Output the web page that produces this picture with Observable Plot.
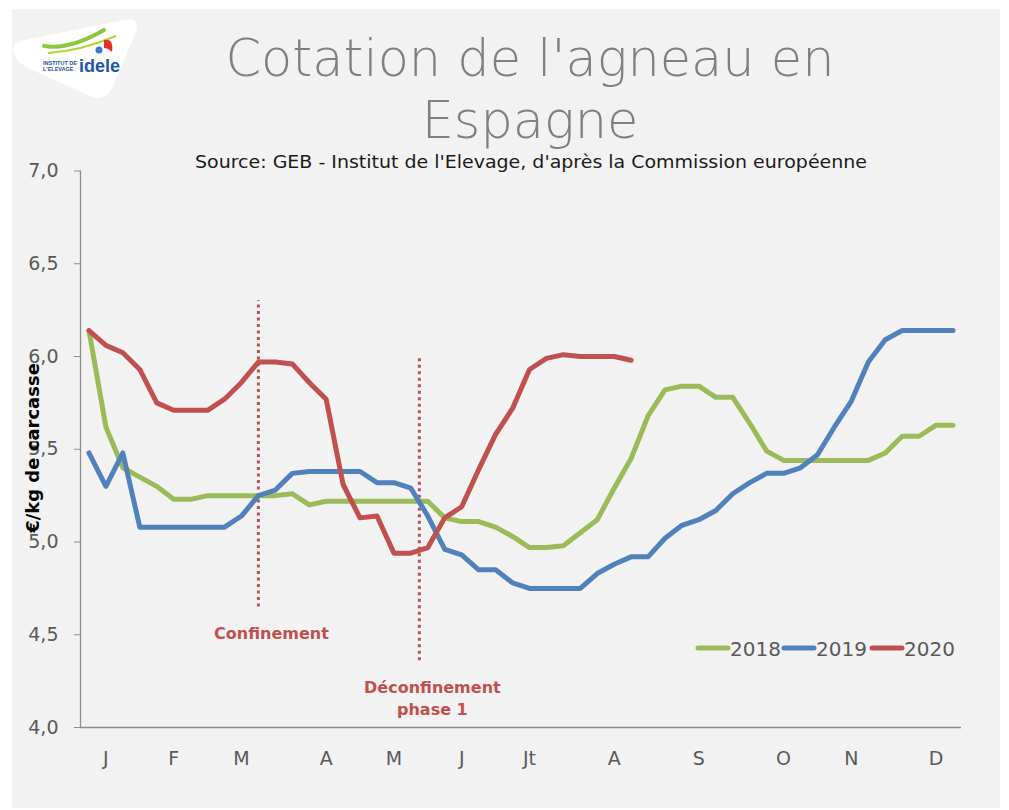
<!DOCTYPE html>
<html>
<head>
<meta charset="utf-8">
<script src="https://cdn.jsdelivr.net/npm/d3@7"></script>
<script src="https://cdn.jsdelivr.net/npm/@observablehq/plot@0.6"></script>
<style>
  html, body { margin: 0; padding: 0; background: #ffffff; }
  #page { position: relative; width: 1009px; height: 810px; overflow: hidden; background: #ffffff; }
  #panel { position: absolute; left: 12px; top: 9px; width: 988px; height: 799px; background: #f2f2f2; }
  #overlay { position: absolute; left: 0; top: 0; pointer-events: none; }
</style>
</head>
<body>
<div id="page">
  <div id="panel"></div>
  <svg id="overlay" width="1009" height="810"></svg>
</div>
<script>
// ---- Data (weekly lamb prices, €/kg carcass, Spain) ----
const weeks = d3.range(1, 53);
const years = ["2018", "2019", "2020"];
const yearColors = ["#9bbb59", "#4f81bd", "#c0504d"];

const price2018 = [6.14, 5.62, 5.40, 5.35, 5.30, 5.23, 5.23, 5.25, 5.25, 5.25, 5.25, 5.25, 5.26,
  5.20, 5.22, 5.22, 5.22, 5.22, 5.22, 5.22, 5.22, 5.13, 5.11, 5.11, 5.08, 5.03,
  4.97, 4.97, 4.98, 5.05, 5.12, 5.29, 5.45, 5.68, 5.82, 5.84, 5.84, 5.78, 5.78,
  5.64, 5.49, 5.44, 5.44, 5.44, 5.44, 5.44, 5.44, 5.48, 5.57, 5.57, 5.63, 5.63];

const price2019 = [5.48, 5.30, 5.48, 5.08, 5.08, 5.08, 5.08, 5.08, 5.08, 5.14, 5.25, 5.28, 5.37,
  5.38, 5.38, 5.38, 5.38, 5.32, 5.32, 5.29, 5.14, 4.96, 4.93, 4.85, 4.85, 4.78,
  4.75, 4.75, 4.75, 4.75, 4.83, 4.88, 4.92, 4.92, 5.02, 5.09, 5.12, 5.17, 5.26,
  5.32, 5.37, 5.37, 5.40, 5.47, 5.62, 5.76, 5.97, 6.09, 6.14, 6.14, 6.14, 6.14];

const price2020 = [6.14, 6.06, 6.02, 5.93, 5.75, 5.71, 5.71, 5.71, 5.77, 5.86, 5.97, 5.97, 5.96,
  5.86, 5.77, 5.31, 5.13, 5.14, 4.94, 4.94, 4.97, 5.13, 5.19, 5.39, 5.58, 5.72,
  5.93, 5.99, 6.01, 6.00, 6.00, 6.00, 5.98];

const monthLabels = ["J", "F", "M", "A", "M", "J", "Jt", "A", "S", "O", "N", "D"];
const monthWeeks = [2, 6, 10, 15, 19, 23, 27, 32, 37, 42, 46, 51];
const yTicks = [4.0, 4.5, 5.0, 5.5, 6.0, 6.5, 7.0];

const eventLabels = ["Confinement", "Déconfinement\nphase 1"];
const eventWeeks = [11, 20.5];
const eventTop = [6.30, 5.99];
const eventBottom = [4.65, 4.36];

const titleLines = ["Cotation de l'agneau en", "Espagne"];
const subtitle = "Source: GEB - Institut de l'Elevage, d'après la Commission européenne";
const yLabel = "€/kg de carcasse";

// ---- Build tables ----
const series = [price2018, price2019, price2020];
const rows = [];
series.forEach((vals, i) => vals.forEach((v, j) => rows.push({week: weeks[j], value: v, year: years[i]})));
const events = eventLabels.map((label, i) => ({label, week: eventWeeks[i], top: eventTop[i], bottom: eventBottom[i]}));

const FONT = "'DejaVu Sans', sans-serif";
const red = yearColors[2];

const chart = Plot.plot({
  width: 988,
  height: 799,
  marginLeft: 68,
  marginRight: 39,
  marginTop: 161.5,
  marginBottom: 81,
  style: {background: "transparent", fontFamily: FONT, overflow: "visible"},
  x: {type: "linear", domain: [0.5, 52.5]},
  y: {domain: [4, 7]},
  color: {domain: years, range: yearColors},
  marks: [
    Plot.ruleY([4], {stroke: "#8c8c8c", strokeWidth: 1.3}),
    Plot.ruleX([0.5], {y1: 4, y2: 7, stroke: "#8c8c8c", strokeWidth: 1.3}),
    Plot.axisY({ticks: yTicks, tickSize: 6, tickPadding: 16, stroke: "#8c8c8c",
      tickFormat: d => d.toFixed(1).replace(".", ","), fontSize: 19, fill: "#595959", label: null}),
    Plot.axisX({ticks: monthWeeks, tickSize: 0, tickPadding: 24,
      tickFormat: d => monthLabels[monthWeeks.indexOf(d)], fontSize: 19, fill: "#595959", label: null}),
    Plot.ruleX(events, {x: "week", y1: "bottom", y2: "top", stroke: red, strokeWidth: 3, strokeDasharray: "3,3.5"}),
    Plot.text(events, {x: "week", y: "bottom", text: "label", dx: 13, dy: 16, lineAnchor: "top",
      fill: red, fontWeight: "bold", fontSize: 16, lineHeight: 1.4, fontFamily: FONT}),
    Plot.line(rows, {x: "week", y: "value", z: "year", stroke: "year", strokeWidth: 5,
      strokeLinejoin: "round", strokeLinecap: "round"})
  ]
});
document.getElementById("panel").appendChild(chart);

// ---- Overlay: title, subtitle, y label, legend, logo ----
const ov = d3.select("#overlay");
// logo
const logo = ov.append("g");
logo.append("path").attr("d", "M14,54 Q10,44 24,40 L124,20 Q140,17 136,32 L112,88 Q106,101 92,97 L28,68 Q17,62 14,54 Z").attr("fill", "#ffffff");
logo.append("path").attr("d", "M44,46 Q70,50 104,30").attr("stroke", "#8dc63f").attr("stroke-width", 4).attr("fill", "none").attr("stroke-linecap", "round");
logo.append("path").attr("d", "M48,53 Q80,51 116,36").attr("stroke", "#b5d334").attr("stroke-width", 2).attr("fill", "none");
logo.append("path").attr("d", "M104,40 Q114,38 112,52 Q108,48 104,48 Z").attr("fill", "#e63027");
logo.append("circle").attr("cx", 99).attr("cy", 50).attr("r", 3.5).attr("fill", "#3b7cc4");
logo.append("text").attr("x", 43).attr("y", 65).attr("font-size", 5.5).attr("font-weight", "bold").attr("fill", "#1f4e9c").attr("font-family", "'Liberation Sans Narrow','Liberation Sans',sans-serif").text("INSTITUT DE");
logo.append("text").attr("x", 43).attr("y", 71).attr("font-size", 5.5).attr("font-weight", "bold").attr("fill", "#1f4e9c").attr("font-family", "'Liberation Sans Narrow','Liberation Sans',sans-serif").text("L'ELEVAGE");
logo.append("text").attr("x", 79).attr("y", 72).attr("font-size", 18).attr("font-weight", "bold").attr("fill", "#1f56a8").attr("font-family", "'Liberation Sans',sans-serif").text("idele");

// title
titleLines.forEach((t, i) => {
  ov.append("text").attr("x", 530).attr("y", 76 + i * 62).attr("text-anchor", "middle")
    .attr("font-family", FONT).attr("font-weight", 200).attr("font-size", 51).attr("fill", "#7f7f7f").text(t);
});
ov.append("text").attr("x", 531).attr("y", 168).attr("text-anchor", "middle")
  .attr("font-family", FONT).attr("font-size", 17).attr("fill", "#1a1a1a")
  .attr("textLength", 672).attr("lengthAdjust", "spacingAndGlyphs").text(subtitle);
// y label
ov.append("text").attr("transform", "translate(39,448) rotate(-90)").attr("text-anchor", "middle")
  .attr("font-family", FONT).attr("font-weight", "bold").attr("font-size", 18).attr("fill", "#000").text(yLabel);
// legend
const legX = [698, 784, 872];
years.forEach((y, i) => {
  ov.append("line").attr("x1", legX[i]).attr("x2", legX[i] + 30).attr("y1", 648).attr("y2", 648)
    .attr("stroke", yearColors[i]).attr("stroke-width", 5).attr("stroke-linecap", "round");
  ov.append("text").attr("x", legX[i] + 32).attr("y", 656).attr("font-family", FONT)
    .attr("font-size", 20).attr("fill", "#595959").text(y);
});
</script>
</body>
</html>
